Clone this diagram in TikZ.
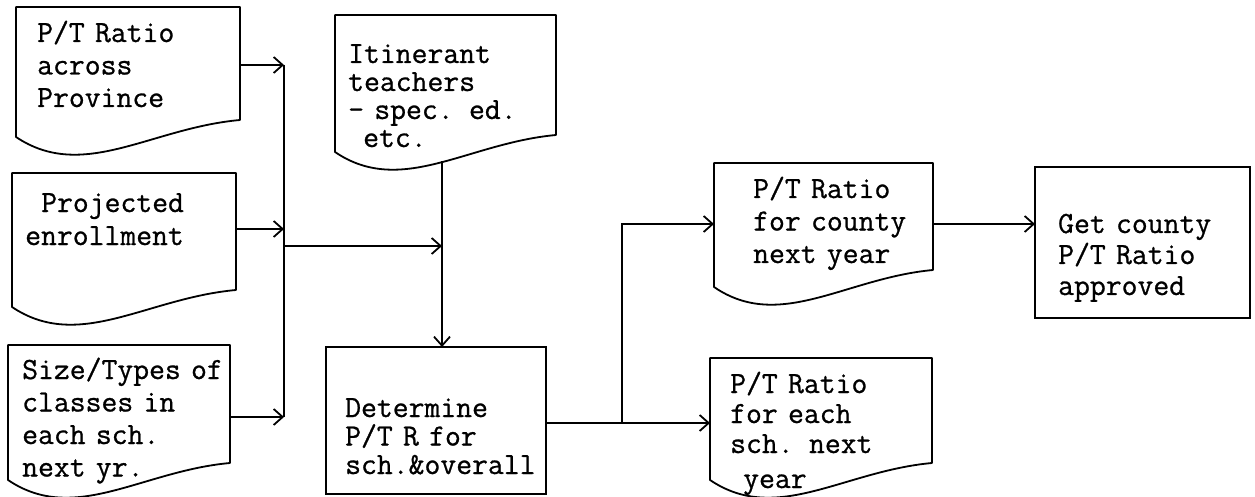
\documentclass[tikz,border=0pt]{standalone}
\usepackage{fontspec}
\setmonofont{Latin Modern Mono}[FakeBold=0.8]
\usetikzlibrary{arrows.meta,calc}

% wavy-bottom document outline around a geometry node
\newcommand\docoutline[1]{%
  \draw[outline] (#1.south east) -- (#1.north east) -- (#1.north west)
    -- ([yshift=-17pt]#1.south west)
    .. controls ($(#1.south west)!0.3!(#1.south east)+(0,-62pt)$)
           and ($(#1.south west)!0.6!(#1.south east)+(0,-8pt)$) .. (#1.south east) -- cycle;}

\tikzset{
  docframe/.style={inner sep=0pt, outer sep=0pt, anchor=north west},
  procbox/.style={draw, line width=1.8pt, inner sep=0pt, outer sep=0pt, anchor=north west},
  outline/.style={line width=1.8pt, line join=round},
  txt/.style={font=\ttfamily\fontsize{30.8}{#1}\selectfont, text width=300pt,
              align=left, inner sep=0pt, anchor=base west},
  txt/.default=32.5,
  link/.style={line width=1.8pt},
  arr/.style={line width=1.8pt, -{Straight Barb[length=9pt,width=16pt]}},
}

\begin{document}
\begin{tikzpicture}[x=1pt, y=-1pt]
\useasboundingbox (0,0) rectangle (1255,497);
\clip (0,0) rectangle (1255,497);

% input documents
\node[docframe, minimum width=224pt, minimum height=113pt] (prov) at (16,7) {};
\node[docframe, minimum width=224pt, minimum height=117pt] (proj) at (12,173) {};
\node[docframe, minimum width=222pt, minimum height=118pt] (size) at (8,345) {};
\node[docframe, minimum width=221pt, minimum height=120pt] (itin) at (335,15) {};
\docoutline{prov}
\docoutline{proj}
\docoutline{size}
\docoutline{itin}

\node[txt] (provtxt) at (37,42) {P/T Ratio\\across\\Province};
\node[txt=33] (projtxt) at (25,212) {\hspace*{16pt}Projected\\enrollment};
\node[txt] (sizetxt) at (22,379) {Size/Types of\\classes in\\each sch.\\next yr.};
\node[txt=28] (itintxt) at (348,63) {Itinerant\\teachers\\- spec. ed.\\\hspace*{15pt}etc.};

% processing step
\node[procbox, minimum width=220pt, minimum height=147pt] (det) at (326,347) {};
\node[txt=28.5] (dettxt) at (345,417) {Determine\\P/T R for\\sch.\&overall};

% output documents
\node[docframe, minimum width=219pt, minimum height=107pt] (county) at (714,163) {};
\node[docframe, minimum width=222pt, minimum height=105pt] (school) at (710,358) {};
\docoutline{county}
\docoutline{school}
\node[txt] (countytxt) at (753,198) {P/T Ratio\\for county\\next year};
\node[txt=30] (schooltxt) at (730,393) {P/T Ratio\\for each\\sch. next\\[5pt]\hspace*{13pt}year};

% approval step
\node[procbox, minimum width=215pt, minimum height=151pt] (get) at (1035,167) {};
\node[txt=31] (gettxt) at (1058,233) {Get county\\P/T Ratio\\approved};

% collecting bus on the left
\coordinate (b1) at (284,65);
\coordinate (b2) at (284,229);
\coordinate (b3) at (284,417);
\coordinate (b4) at (284,246);
\coordinate (join) at (442,246);
\coordinate (itout) at (442,161);
\draw[arr] (prov.east |- b1) -- (b1);
\draw[arr] (proj.east |- b2) -- (b2);
\draw[arr] (size.east |- b3) -- (b3);
\draw[link] (b1) -- (b3);
\draw[arr] (b4) -- (join);
\draw[arr] (itout) -- (join |- det.north);

% split of the result
\coordinate (split) at (622,423);
\coordinate (crow) at (800,224);
\draw[link] (det.east |- split) -- (split);
\draw[arr] (split) -- (split -| school.west);
\draw[arr] (split) |- (county.west |- crow);
\draw[arr] (county.east |- crow) -- (get.west |- crow);
\end{tikzpicture}
\end{document}
